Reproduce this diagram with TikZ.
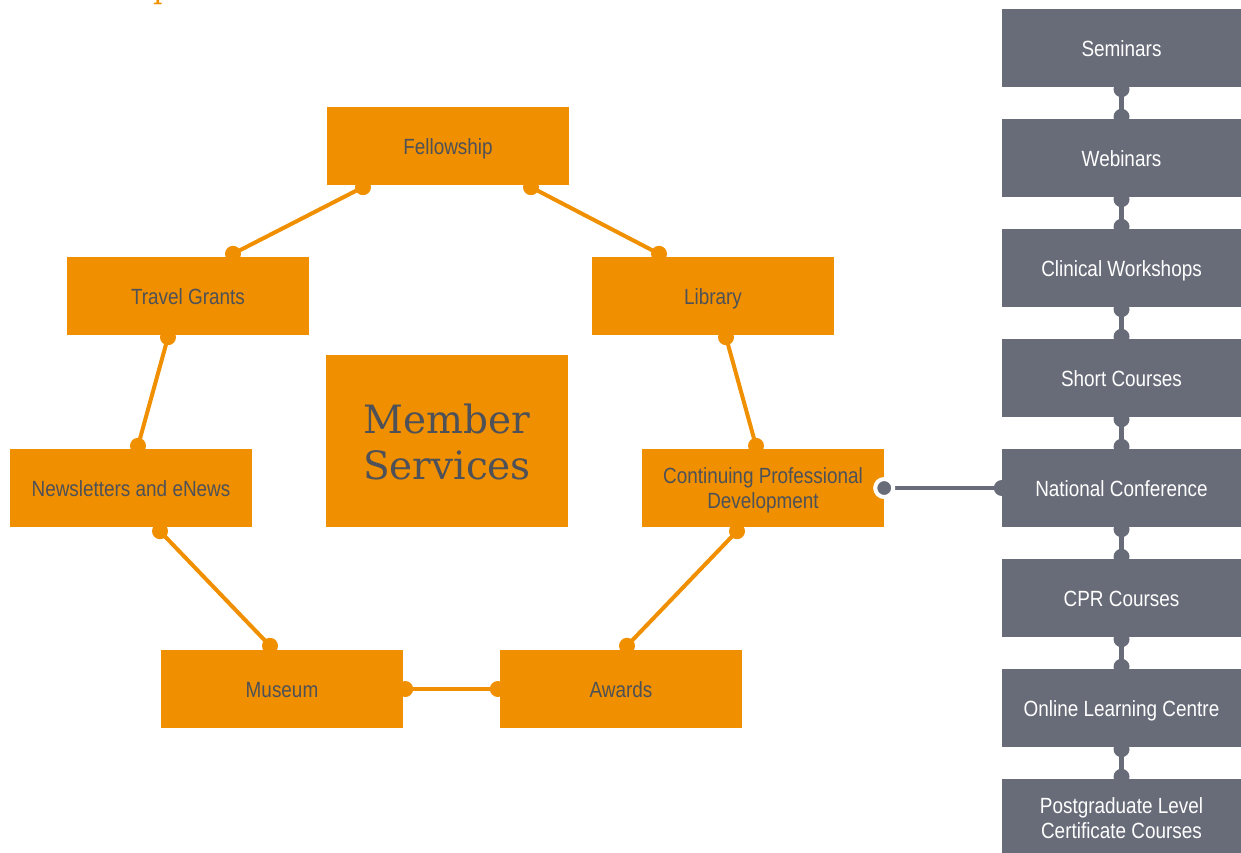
\documentclass[tikz,border=0pt]{standalone}
\usepackage{fontspec}
\setmainfont{Liberation Sans}
\newfontfamily\cond[FakeStretch=0.86]{Liberation Sans}
\newfontfamily\slab{DejaVu Serif}
\definecolor{orng}{RGB}{240,144,0}
\definecolor{gbox}{RGB}{104,107,120}
\definecolor{dtext}{RGB}{78,81,88}
\begin{document}
\begin{tikzpicture}[x=1pt,y=-1pt,
  obox/.style={fill=orng,draw=none,minimum width=242pt,minimum height=78pt,inner sep=0pt,
    align=center,text=dtext,font=\cond\fontsize{22}{25}\selectfont},
  gnode/.style={fill=gbox,draw=none,minimum width=239pt,minimum height=78pt,inner sep=0pt,
    align=center,text=white,font=\cond\fontsize{22}{25}\selectfont},
  one/.style={text height=20pt,text depth=4pt},
  two/.style={text height=45pt,text depth=4pt},
  oline/.style={draw=orng,line width=4pt},
  gline/.style={draw=gbox,line width=4.5pt},
  odot/.style={fill=orng},
  gdot/.style={fill=gbox}]
\useasboundingbox (0,0) rectangle (1241,852);
\clip (0,0) rectangle (1241,852);
% title fragment
\node[anchor=base west,inner sep=0pt,text=orng,font=\slab\fontsize{30}{30}\selectfont] (ttl) at (153,-2) {p};
% orange boxes
\node[obox,one] (fel) at (448,146) {Fellowship};
\node[obox,one] (tg) at (188,296) {Travel Grants};
\node[obox,one] (lib) at (713,296) {Library};
\node[obox,minimum height=172pt,text height=86pt,text depth=9pt,font=\slab\fontsize{39}{46}\selectfont] (ms) at (447,441) {Member\\Services};
\node[obox,one] (nw) at (131,488) {Newsletters and eNews};
\node[obox,two] (cpd) at (763,488) {Continuing Professional\\Development};
\node[obox,one] (mus) at (282,689) {Museum};
\node[obox,one] (aw) at (621,689) {Awards};
% gray column
\node[gnode,one] (sem) at (1121.5,48) {Seminars};
\node[gnode,one] (web) at (1121.5,158) {Webinars};
\node[gnode,one] (cw) at (1121.5,268) {Clinical Workshops};
\node[gnode,one] (sc) at (1121.5,378) {Short Courses};
\node[gnode,one] (nat) at (1121.5,488) {National Conference};
\node[gnode,one] (cpr) at (1121.5,598) {CPR Courses};
\node[gnode,one] (olc) at (1121.5,708) {Online Learning Centre};
\node[gnode,two] (pg) at (1121.5,818) {Postgraduate Level\\Certificate Courses};
% connector coordinates
\coordinate (f1) at ([xshift=-85pt,yshift=-2pt]fel.south);
\coordinate (t1) at ([xshift=45pt,yshift=3pt]tg.north);
\coordinate (f2) at ([xshift=83pt,yshift=-2pt]fel.south);
\coordinate (l1) at ([xshift=-54pt,yshift=3pt]lib.north);
\coordinate (t2) at ([xshift=-20pt,yshift=-2pt]tg.south);
\coordinate (n1) at ([xshift=7pt,yshift=3pt]nw.north);
\coordinate (l2) at ([xshift=13pt,yshift=-2pt]lib.south);
\coordinate (c1) at ([xshift=-7pt,yshift=3pt]cpd.north);
\coordinate (n2) at ([xshift=29pt,yshift=-4pt]nw.south);
\coordinate (m1) at ([xshift=-12pt,yshift=4pt]mus.north);
\coordinate (c2) at ([xshift=-26pt,yshift=-4pt]cpd.south);
\coordinate (a1) at ([xshift=6pt,yshift=4pt]aw.north);
\coordinate (m2) at ([xshift=2pt]mus.east);
\coordinate (a2) at ([xshift=-2pt]aw.west);
\foreach \a/\b in {f1/t1,f2/l1,t2/n1,l2/c1,n2/m1,c2/a1,m2/a2}{
  \draw[oline] (\a) -- (\b);
  \fill[odot] (\a) circle (8pt);
  \fill[odot] (\b) circle (8pt);
}
% gray vertical connectors
\foreach \a/\b in {sem/web,web/cw,cw/sc,sc/nat,nat/cpr,cpr/olc,olc/pg}{
  \draw[gline] ([yshift=-2pt]\a.south) -- ([yshift=2pt]\b.north);
  \fill[gdot] ([yshift=-2pt]\a.south) circle (8pt);
  \fill[gdot] ([yshift=2pt]\b.north) circle (8pt);
}
% CPD to National Conference
\draw[gline] (cpd.east) -- (nat.west);
\fill[gdot] (nat.west) circle (8pt);
\fill[gdot,draw=white,line width=4pt] (cpd.east) circle (9pt);
\end{tikzpicture}
\end{document}
